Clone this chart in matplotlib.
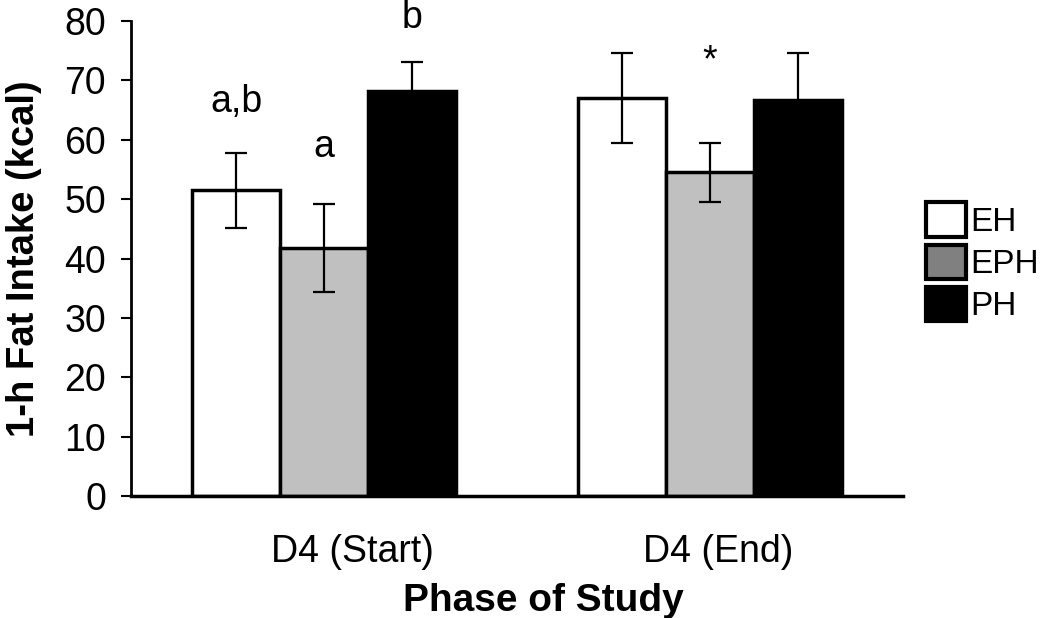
import matplotlib
matplotlib.use("Agg")
import matplotlib.pyplot as plt
from matplotlib.patches import Patch

plt.rcParams['font.family'] = ['Liberation Sans', 'DejaVu Sans']

phases = ["D4 (Start)", "D4 (End)"]
groups = ["EH", "EPH", "PH"]
eh_mean = [51.5, 67.0]
eph_mean = [41.8, 54.5]
ph_mean = [68.2, 66.7]
eh_err = [6.3, 7.6]
eph_err = [7.4, 4.9]
ph_err = [4.9, 7.9]
sig_labels = ["a,b", "a", "b", None, "*", None]
sig_y = [64.6, 57.1, 78.8, None, 71.5, None]

bar_colors = ["white", "#c0c0c0", "black"]
legend_colors = ["white", "#808080", "black"]

fig = plt.figure(figsize=(10.5, 6.18), dpi=100)
ax = fig.add_axes([0.1248, 0.1974, 0.7352, 0.7686])

width = 0.228
offsets = [-width, 0, width]
means = [eh_mean, eph_mean, ph_mean]
errs = [eh_err, eph_err, ph_err]

for gi in range(3):
    for pi in range(2):
        x = pi + offsets[gi]
        ax.bar(x, means[gi][pi], width, color=bar_colors[gi],
               edgecolor="black", linewidth=2.5, zorder=2)
        ax.errorbar(x, means[gi][pi], yerr=errs[gi][pi], fmt="none",
                    ecolor="black", elinewidth=1.6, capsize=8,
                    capthick=1.6, zorder=3)

# significance letters
for gi in range(3):
    for pi in range(2):
        lab = sig_labels[pi * 3 + gi]
        if lab is None:
            continue
        yy = sig_y[pi * 3 + gi]
        ax.text(pi + offsets[gi], yy, lab, ha="center", va="baseline",
                fontsize=27)

ax.set_xlim(-0.5, 1.5)
ax.set_ylim(0, 80)
ax.set_yticks(range(0, 81, 10))
ax.tick_params(axis="y", labelsize=27, length=7, width=1.5,
               direction="out", pad=11)
ax.set_xticks([0.073, 1.021])
ax.set_xticklabels(phases)
ax.tick_params(axis="x", labelsize=27, length=0, pad=27)

for s in ["top", "right"]:
    ax.spines[s].set_visible(False)
ax.spines["left"].set_linewidth(2)
ax.spines["bottom"].set_linewidth(2.5)

ax.set_xlabel("Phase of Study", fontsize=28, fontweight="bold")
ax.xaxis.set_label_coords(0.534, -0.183)
ax.set_ylabel("1-h Fat Intake (kcal)", fontsize=27.5, fontweight="bold")
ax.yaxis.set_label_coords(-0.115, 0.5)

handles = [Patch(facecolor=c, edgecolor="black", linewidth=3) for c in legend_colors]
fig.legend(handles, groups, loc="upper left", bbox_to_anchor=(0.869, 0.694),
           frameon=False, fontsize=24, handlelength=1.22, handleheight=1.22,
           handletextpad=0.12, labelspacing=0.2, borderaxespad=0)

fig.savefig("out.png", dpi=100)
